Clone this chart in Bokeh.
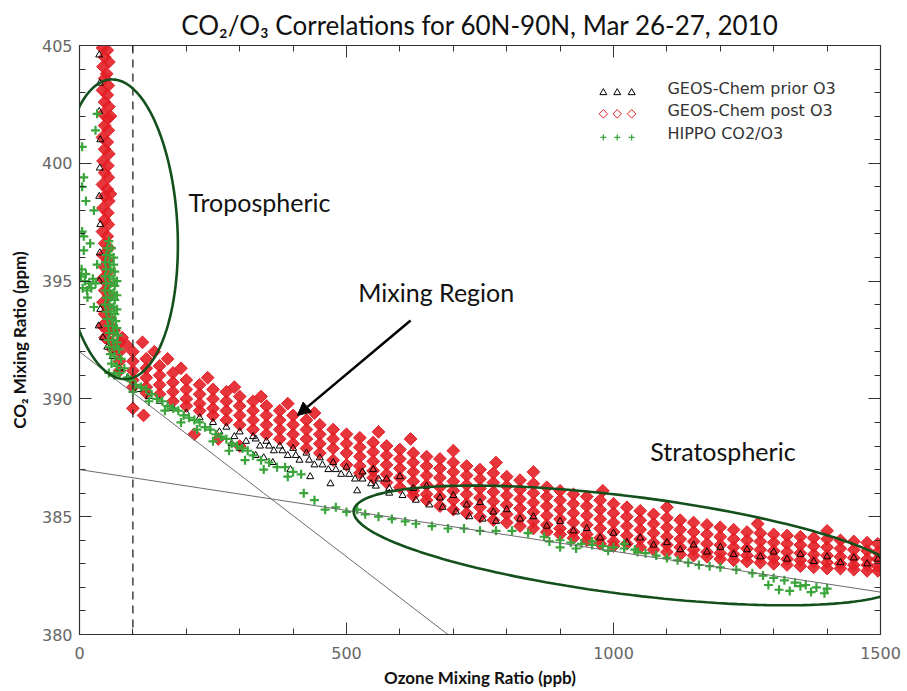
import numpy as np
from bokeh.plotting import figure
from bokeh.models import (LinearAxis, SingleIntervalTicker, Span, Label, Arrow,
                          NormalHead, PolyAnnotation)
from bokeh.embed import file_html
from bokeh.resources import INLINE

# ---------------- data ----------------
x_range = (0, 1500)
y_range = (380, 405)

# GEOS-Chem prior O3 (black triangles)
prior_pts = [
    (37, 404.6), (38, 403.4), (37, 402.2), (39, 401.0), (38, 399.8), (37, 398.6), (39, 397.4),
    (38, 396.2), (37, 395.0), (39, 393.8), (36, 393.1), (44, 392.6), (52, 392.2), (62, 391.8),
    (75, 391.3), (90, 390.9),
    (110, 390.4), (130, 390.1), (150, 389.9), (175, 389.6), (200, 389.4), (225, 389.2), (250, 389.0),
    (262, 388.6), (275, 388.8), (290, 388.4), (300, 388.6), (312, 388.2), (325, 388.4), (338, 388.0),
    (350, 388.2), (364, 387.8), (375, 388.0), (390, 387.6), (400, 387.9), (412, 387.4), (425, 387.7),
    (440, 387.2), (450, 387.5), (466, 387.0), (475, 387.3), (490, 386.8), (500, 387.1), (516, 386.6),
    (530, 386.9), (546, 386.4), (560, 386.6), (580, 386.2),
    (300, 387.9), (330, 387.6), (362, 387.3), (395, 387.0), (432, 386.7), (470, 386.4), (520, 386.1),
    (285, 388.1), (345, 387.5),
    (330, 388.3), (355, 388.0), (380, 387.8), (405, 387.6), (430, 387.4), (455, 387.2), (480, 387.0),
    (505, 386.8), (530, 386.6), (555, 386.3), (580, 386.0), (605, 385.9), (630, 385.7), (655, 385.5),
    (680, 385.4), (705, 385.2), (730, 385.0), (755, 384.9), (780, 384.8),
    (550, 387.0), (600, 386.7), (650, 386.3), (700, 385.9), (750, 385.6), (800, 385.3), (850, 385.0),
    (900, 384.8), (950, 384.5), (1000, 384.3), (1050, 384.1), (1100, 383.9), (1150, 383.8),
    (1200, 383.7), (1250, 383.6), (1300, 383.5), (1350, 383.4), (1400, 383.3), (1450, 383.25),
    (1495, 383.2),
    (575, 386.6), (625, 386.2), (675, 385.8), (725, 385.5), (775, 385.2), (825, 384.9), (875, 384.6),
    (925, 384.4), (975, 384.1), (1025, 383.9), (1075, 383.8), (1125, 383.6), (1175, 383.5),
    (1225, 383.4), (1275, 383.3), (1325, 383.2), (1375, 383.1), (1425, 383.05), (1475, 383.0),
]

# GEOS-Chem post O3 (red diamonds): tropospheric column
post_column = [
    (43, 404.9), (52, 404.8), (47, 404.5), (55, 404.3), (44, 404.1), (51, 403.8), (47, 403.6),
    (54, 403.3), (43, 403.1), (52, 402.9), (47, 402.6), (55, 402.4), (44, 402.1), (53, 401.9),
    (47, 401.6), (54, 401.4), (43, 401.1), (52, 400.9), (47, 400.6), (55, 400.4), (44, 400.1),
    (53, 399.9), (47, 399.6), (54, 399.4), (43, 399.1), (52, 398.9), (47, 398.6), (55, 398.4),
    (44, 398.1), (53, 397.9), (47, 397.6), (54, 397.4), (43, 397.1), (52, 396.9), (47, 396.6),
    (55, 396.4), (44, 396.1), (53, 395.9), (47, 395.6), (54, 395.4), (43, 395.1), (52, 394.9),
    (47, 394.6), (55, 394.4), (44, 394.1), (53, 393.9), (47, 393.6), (56, 393.4), (43, 393.1),
    (54, 392.9), (62, 393.0), (48, 392.6), (60, 392.4), (65, 392.9), (80, 392.6), (88, 392.3),
    (62, 392.1), (58, 398.7), (58, 402.0),
]
# red diamonds: mixing region (x, list of y)
post_mixing = [
    (75, [392.4, 392.0, 391.6, 391.2]),
    (100, [392.0, 391.6, 391.2, 390.8, 390.5]),
    (125, [391.7, 391.3, 390.9, 390.5, 390.25]),
    (150, [391.4, 391.0, 390.6, 390.2]),
    (175, [391.1, 390.7, 390.3, 389.9]),
    (200, [390.8, 390.4, 390.0, 389.7]),
    (225, [390.6, 390.2, 389.8, 389.5]),
    (250, [390.4, 390.0, 389.6, 389.3]),
    (275, [390.3, 389.9, 389.5, 389.1]),
    (300, [390.1, 389.7, 389.3, 388.9]),
    (325, [389.9, 389.5, 389.1, 388.7]),
    (350, [389.7, 389.3, 388.9, 388.5]),
    (375, [389.5, 389.1, 388.7, 388.3]),
    (400, [389.3, 388.9, 388.5, 388.1]),
    (425, [389.1, 388.7, 388.3, 387.9]),
    (450, [388.9, 388.5, 388.1, 387.7]),
    (475, [388.7, 388.3, 387.9, 387.4]),
    (500, [388.5, 388.1, 387.7, 387.2]),
]
post_scatter = [
    (118, 392.4), (140, 392.0), (165, 391.7), (190, 391.3), (240, 390.9), (290, 390.5),
    (340, 390.1), (390, 389.8), (440, 389.4), (100, 389.6), (120, 389.3), (215, 388.5),
    (260, 388.3), (300, 388.0), (560, 388.6), (620, 388.3), (700, 387.8), (780, 387.3),
    (850, 386.9), (980, 386.1), (1100, 385.4), (1270, 384.7), (1400, 384.4),
]
# red diamonds: stratospheric part (x, list of y)
post_strat = [
    (525, [388.35, 387.95, 387.55, 387.15, 386.85]),
    (550, [388.15, 387.75, 387.35, 386.95, 386.65]),
    (575, [388.0, 387.6, 387.2, 386.8, 386.45]),
    (600, [387.85, 387.45, 387.05, 386.65, 386.25]),
    (625, [387.7, 387.3, 386.9, 386.5, 386.1, 385.9]),
    (650, [387.55, 387.15, 386.75, 386.35, 385.95, 385.7]),
    (675, [387.45, 387.05, 386.65, 386.25, 385.85, 385.45]),
    (700, [387.3, 386.9, 386.5, 386.1, 385.7, 385.3]),
    (725, [387.15, 386.75, 386.35, 385.95, 385.55, 385.15]),
    (750, [387.0, 386.6, 386.2, 385.8, 385.4, 385.0]),
    (775, [386.85, 386.45, 386.05, 385.65, 385.25, 384.85]),
    (800, [386.7, 386.3, 385.9, 385.5, 385.1, 384.75]),
    (825, [386.55, 386.15, 385.75, 385.35, 384.95, 384.6]),
    (850, [386.4, 386.0, 385.6, 385.2, 384.8, 384.5]),
    (875, [386.25, 385.85, 385.45, 385.05, 384.65, 384.35]),
    (900, [386.1, 385.7, 385.3, 384.9, 384.5, 384.25]),
    (925, [385.95, 385.55, 385.15, 384.75, 384.35, 384.1]),
    (950, [385.85, 385.45, 385.05, 384.65, 384.25, 384.0]),
    (975, [385.7, 385.3, 384.9, 384.5, 384.1, 383.85]),
    (1000, [385.55, 385.15, 384.75, 384.35, 383.95, 383.75]),
    (1025, [385.4, 385.0, 384.6, 384.2, 383.85]),
    (1050, [385.25, 384.85, 384.45, 384.05, 383.7]),
    (1075, [385.1, 384.7, 384.3, 383.9, 383.6]),
    (1100, [384.95, 384.55, 384.15, 383.8, 383.5]),
    (1125, [384.85, 384.45, 384.05, 383.7, 383.4]),
    (1150, [384.75, 384.35, 383.95, 383.6, 383.35]),
    (1175, [384.65, 384.25, 383.85, 383.5, 383.3]),
    (1200, [384.55, 384.15, 383.8, 383.45, 383.2]),
    (1225, [384.45, 384.05, 383.7, 383.4, 383.15]),
    (1250, [384.35, 384.0, 383.65, 383.35, 383.1]),
    (1275, [384.3, 383.95, 383.6, 383.3, 383.05]),
    (1300, [384.25, 383.9, 383.55, 383.25, 383.0]),
    (1325, [384.2, 383.85, 383.5, 383.2, 382.95]),
    (1350, [384.15, 383.8, 383.45, 383.15, 382.9]),
    (1375, [384.1, 383.75, 383.4, 383.1, 382.85]),
    (1400, [384.05, 383.7, 383.35, 383.05, 382.8]),
    (1425, [384.0, 383.65, 383.3, 383.0, 382.8]),
    (1450, [383.95, 383.6, 383.25, 382.95, 382.75]),
    (1475, [383.9, 383.55, 383.2, 382.95, 382.7]),
    (1495, [383.85, 383.5, 383.2, 382.9, 382.7]),
]

# HIPPO CO2/O3 (green crosses)
hippo_pts = [
    (5, 400.7), (8, 399.4), (5, 399.0), (27, 398.0), (5, 397.1), (8, 396.9), (8, 396.3), (33, 395.7),
    (15, 394.3), (27, 393.9), (33, 402.1), (30, 401.4), (12, 398.4), (20, 396.6),
    (3, 395.2), (10, 395.0), (18, 394.9), (25, 395.1), (6, 394.7), (14, 394.6), (22, 394.7),
    (30, 394.9), (4, 395.5), (12, 395.3),
    (55, 396.7), (52, 396.4), (60, 396.4), (50, 396.1), (57, 396.1), (64, 396.0), (48, 395.8),
    (56, 395.8), (64, 395.7), (50, 395.5), (58, 395.5), (66, 395.4), (48, 395.2), (56, 395.2),
    (64, 395.1), (70, 395.0), (50, 394.9), (58, 394.9), (66, 394.8), (48, 394.6), (56, 394.6),
    (64, 394.5), (70, 394.4), (50, 394.3), (58, 394.3), (66, 394.2), (48, 394.0), (56, 394.0),
    (64, 393.9), (70, 393.8), (50, 393.7), (58, 393.7), (66, 393.6), (52, 393.4), (60, 393.4),
    (68, 393.3), (54, 393.1), (62, 393.1), (70, 393.0), (56, 392.8), (64, 392.8), (72, 392.7),
    (54, 392.5), (62, 392.5), (70, 392.4), (56, 392.2), (64, 392.2), (74, 392.1), (58, 391.9),
    (66, 391.8), (78, 391.7), (60, 391.5), (70, 391.4), (84, 391.3), (55, 391.1), (65, 391.0),
    (75, 391.1), (90, 390.9),
    (95, 390.8), (105, 390.6), (115, 390.5), (100, 390.3), (125, 390.4), (135, 390.2), (145, 390.0),
    (130, 389.9), (155, 389.9), (165, 389.7), (175, 389.6), (160, 389.5), (185, 389.5), (195, 389.3),
    (205, 389.2), (190, 389.0), (215, 389.1), (225, 389.0), (235, 388.8), (220, 388.7), (245, 388.7),
    (255, 388.5), (265, 388.4), (250, 388.2), (275, 388.3), (285, 388.1), (295, 388.0), (305, 387.9),
    (280, 387.8), (315, 387.8), (325, 387.6), (310, 387.4), (340, 387.4), (355, 387.3), (370, 387.1),
    (385, 387.1), (400, 386.9), (415, 386.8), (345, 387.0), (390, 386.7),
    (420, 386.0), (440, 385.7), (460, 385.3), (480, 385.4), (500, 385.2), (520, 385.3),
    (535, 385.1), (560, 385.0), (585, 384.9), (610, 384.8), (630, 384.7), (660, 384.6), (690, 384.5),
    (720, 384.5), (750, 384.4), (780, 384.4), (810, 384.4), (840, 384.3), (870, 384.15),
    (880, 383.95), (900, 384.0), (920, 383.9), (940, 383.85), (960, 383.8), (980, 383.75),
    (1000, 383.7), (1020, 383.65), (1040, 383.6), (1060, 383.45), (1080, 383.35), (1100, 383.25),
    (1120, 383.15), (1140, 383.05), (1160, 382.95), (1180, 382.9), (1200, 382.85), (1230, 382.75),
    (1260, 382.6), (1280, 382.5), (1300, 382.4), (1320, 382.3), (1340, 382.2), (1360, 382.1),
    (1380, 382.0), (1400, 381.95),
    (900, 383.7), (930, 383.65), (960, 383.95), (990, 383.55), (1020, 383.85), (1045, 383.5),
    (1290, 382.1), (1310, 381.9), (1330, 381.85), (1350, 382.05), (1370, 381.8), (1395, 381.75),
]

# fitted lines
fit1_x = [0, 690]
fit1_y = [392.0, 380.0]
fit2_x = [0, 1500]
fit2_y = [387.0, 381.8]

series_names = ["GEOS-Chem prior O3", "GEOS-Chem post O3", "HIPPO CO2/O3"]
x_tick_values = [0, 500, 1000, 1500]
y_tick_values = [380, 385, 390, 395, 400, 405]

# ---------------- build plot ----------------
prior_x = [p[0] for p in prior_pts]
prior_y = [p[1] for p in prior_pts]
post_x = [p[0] for p in post_column] + [p[0] for p in post_scatter]
post_y = [p[1] for p in post_column] + [p[1] for p in post_scatter]
for cx, ys in post_mixing + post_strat:
    post_x += [cx] * len(ys)
    post_y += ys
hippo_x = [p[0] for p in hippo_pts]
hippo_y = [p[1] for p in hippo_pts]

W, H = 907, 691
ML, MR, MT, MB = 79, 27, 45, 57
p = figure(width=W, height=H, x_range=x_range, y_range=y_range,
           output_backend="svg", toolbar_location=None,
           min_border_left=ML, min_border_right=MR, min_border_top=MT, min_border_bottom=MB,
           background_fill_color="white", border_fill_color="white")
p.grid.visible = False
p.outline_line_color = None

AX = "#333333"
TICKFONT = "DejaVu Sans"

def style_axis(ax, interval, show_labels, values):
    ax.ticker = SingleIntervalTicker(interval=interval, num_minor_ticks=5)
    ax.major_tick_in = 12
    ax.major_tick_out = 0
    ax.minor_tick_in = 6
    ax.minor_tick_out = 0
    ax.axis_line_color = AX
    ax.major_tick_line_color = AX
    ax.minor_tick_line_color = AX
    ax.axis_line_width = 1.2
    if show_labels:
        ax.major_label_text_font = TICKFONT
        ax.major_label_text_font_size = "16px"
        ax.major_label_text_color = "#666666"
    else:
        ax.major_label_overrides = {v: "" for v in values}
        ax.major_label_standoff = 0

xa = p.xaxis[0]
ya = p.yaxis[0]
style_axis(xa, 500, True, x_tick_values)
style_axis(ya, 5, True, y_tick_values)
xa.major_label_standoff = 12
ya.major_label_standoff = 7
xa.axis_label = "Ozone Mixing Ratio (ppb)"
ya.axis_label = "CO\u2082 Mixing Ratio (ppm)"
for a in (xa, ya):
    a.axis_label_text_font = "Lato"
    a.axis_label_text_font_style = "bold"
    a.axis_label_text_font_size = "17px"
    a.axis_label_text_color = "#111111"
xa.axis_label_standoff = 5
ya.axis_label_standoff = 9

top = LinearAxis()
style_axis(top, 500, False, x_tick_values)
right = LinearAxis()
style_axis(right, 5, False, y_tick_values)
p.add_layout(top, "above")
p.add_layout(right, "right")

p.title.text = "CO\u2082/O\u2083 Correlations for 60N-90N, Mar 26-27, 2010"
p.title.text_font = "Lato"
p.title.text_font_style = "normal"
p.title.text_font_size = "26px"
p.title.align = "center"
p.title.text_color = "#111111"
p.title.standoff = 10

RED = "#e31f26"
GREEN = "#3aa53a"

p.scatter(post_x, post_y, marker="square", angle=np.pi / 4, size=9,
          fill_color=RED, fill_alpha=0.9, line_color=RED, line_width=1)
p.scatter(prior_x, prior_y, marker="triangle", size=7, fill_color=None,
          line_color="black", line_width=1)
p.scatter(hippo_x, hippo_y, marker="cross", size=9, line_color=GREEN, line_width=2.2)

p.line(fit1_x, fit1_y, line_color="#6b6b6b", line_width=1)
p.line(fit2_x, fit2_y, line_color="#6b6b6b", line_width=1)

p.add_layout(Span(location=100, dimension="height", line_color="#222222",
                  line_dash="8 6", line_width=1.3))

# ---------------- annotations ----------------
PXX = (W - ML - MR) / (x_range[1] - x_range[0])
PXY = (H - MT - MB) / (y_range[1] - y_range[0])

def ellipse(cx, cy, a_px, b_px, phi, n=160):
    t = np.linspace(0, 2 * np.pi, n)
    dx = a_px * np.cos(t) * np.cos(phi) - b_px * np.sin(t) * np.sin(phi)
    dy = a_px * np.cos(t) * np.sin(phi) + b_px * np.sin(t) * np.cos(phi)
    return list(cx + dx / PXX), list(cy - dy / PXY)

ELL = "#13501c"
ex, ey = ellipse(73, 397.2, 59, 150, -0.05)
p.add_layout(PolyAnnotation(xs=ex, ys=ey, fill_color=None, fill_alpha=0,
                            line_color=ELL, line_alpha=1.0, line_width=2.6))
ex, ey = ellipse(1030, 383.78, 278, 49, 0.126)
p.add_layout(PolyAnnotation(xs=ex, ys=ey, fill_color=None, fill_alpha=0,
                            line_color=ELL, line_alpha=1.0, line_width=2.6))

p.add_layout(Arrow(end=NormalHead(size=13, fill_color="black", line_color="black"),
                   x_start=620, y_start=393.33, x_end=408, y_end=389.3,
                   line_width=2.5, line_color="black"))

for txt, lx, ly in [("Tropospheric", 204, 398.34), ("Mixing Region", 522, 394.52),
                    ("Stratospheric", 1069, 387.77)]:
    p.add_layout(Label(x=lx, y=ly, text=txt, text_font="Lato", text_font_size="25px",
                       text_baseline="middle", text_align="left", text_color="#111111"))

# legend (IDL style, three symbols per entry)
leg_sym_x = [981, 1007, 1034]
leg_rows = [403.0, 402.1, 401.1]
p.scatter(leg_sym_x, [leg_rows[0]] * 3, marker="triangle", size=7, fill_color=None,
          line_color="black", line_width=1)
p.scatter(leg_sym_x, [leg_rows[1]] * 3, marker="square", angle=np.pi / 4, size=6,
          fill_color=None, line_color=RED, line_width=1)
p.scatter(leg_sym_x, [leg_rows[2]] * 3, marker="cross", size=6, line_color=GREEN, line_width=1.3)
for name, ly in zip(series_names, [403.17, 402.24, 401.26]):
    p.add_layout(Label(x=1101, y=ly, text=name, text_font=TICKFONT, text_font_size="16px",
                       text_baseline="middle", text_color="#333333"))

open("out.html", "w").write(file_html(p, INLINE))
